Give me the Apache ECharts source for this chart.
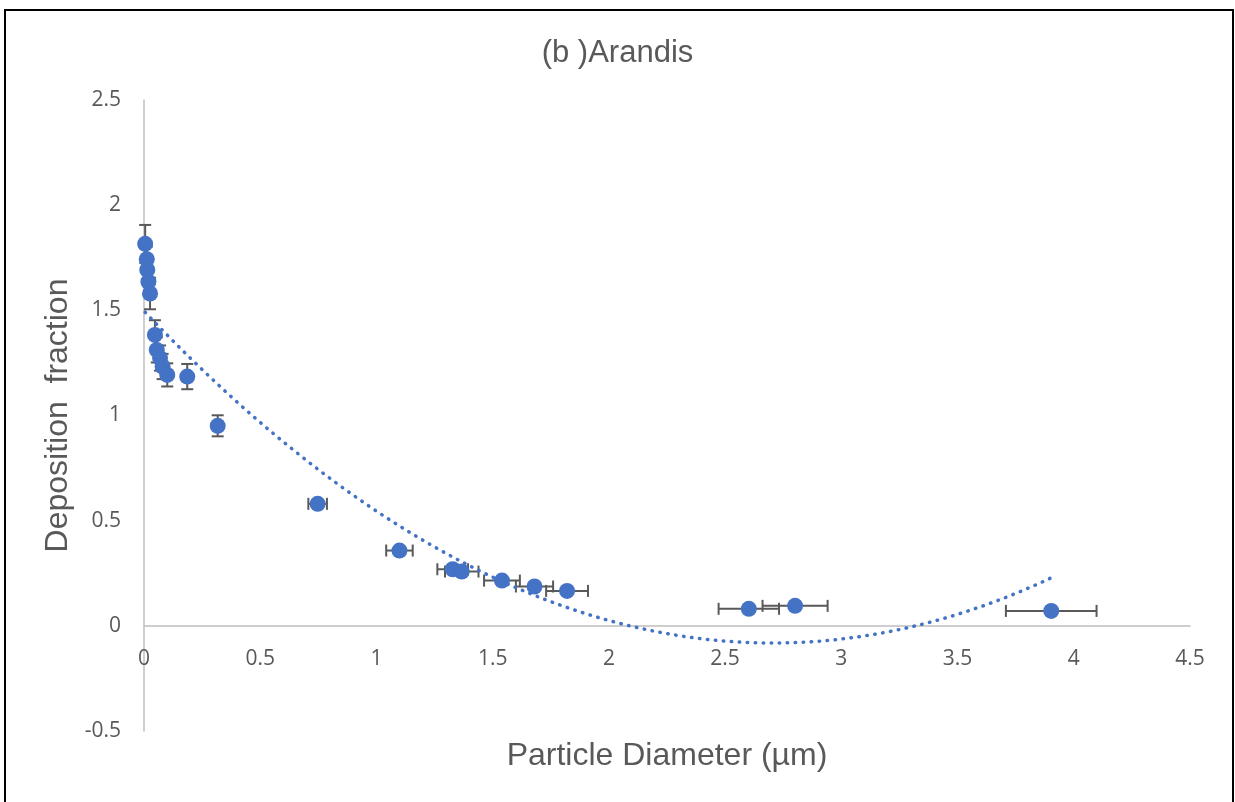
<!DOCTYPE html>
<html>
<head>
<meta charset="utf-8">
<title>(b )Arandis</title>
<script src="https://cdn.jsdelivr.net/npm/echarts@6/dist/echarts.min.js"></script>
<style>
  html, body { margin: 0; padding: 0; background: #fff; }
  #chart { width: 1235px; height: 802px; }
</style>
</head>
<body>
<div id="chart"></div>
<script>
// Measured particle diameters (µm) and deposition fractions
const diameters = [0.005, 0.012, 0.014, 0.019, 0.026, 0.047, 0.055, 0.069, 0.080, 0.100,
                   0.186, 0.317, 0.747, 1.099, 1.328, 1.367, 1.540, 1.680, 1.820, 2.602, 2.801, 3.903];
const fractions = [1.816, 1.743, 1.692, 1.636, 1.580, 1.383, 1.312, 1.273, 1.233, 1.193,
                   1.185, 0.951, 0.580, 0.358, 0.269, 0.258, 0.215, 0.187, 0.166, 0.081, 0.095, 0.071];
// Uncertainties: horizontal (diameter) and vertical (fraction)
const xErrors = [0, 0, 0, 0, 0, 0, 0, 0, 0, 0,
                 0, 0, 0.040, 0.057, 0.066, 0.072, 0.077, 0.080, 0.090, 0.130, 0.140, 0.195];
const yErrors = [0.090, 0.060, 0.060, 0.060, 0.075, 0.070, 0.060, 0.060, 0.060, 0.055,
                 0.060, 0.050, 0.010, 0, 0, 0, 0, 0, 0, 0, 0, 0];
const xTicks = ['0', '0.5', '1', '1.5', '2', '2.5', '3', '3.5', '4', '4.5'];
const yTicks = ['-0.5', '0', '0.5', '1', '1.5', '2', '2.5'];

// Second-order polynomial least-squares trendline
function quadFit(xs, ys) {
  const S = [0, 0, 0, 0, 0], T = [0, 0, 0];
  for (let i = 0; i < xs.length; i++) {
    let p = 1;
    for (let k = 0; k < 5; k++) { S[k] += p; if (k < 3) T[k] += p * ys[i]; p *= xs[i]; }
  }
  const A = [[S[0], S[1], S[2], T[0]], [S[1], S[2], S[3], T[1]], [S[2], S[3], S[4], T[2]]];
  for (let c = 0; c < 3; c++) {
    for (let r = c + 1; r < 3; r++) {
      const f = A[r][c] / A[c][c];
      for (let k = c; k < 4; k++) A[r][k] -= f * A[c][k];
    }
  }
  const b = [0, 0, 0];
  for (let r = 2; r >= 0; r--) {
    let s = A[r][3];
    for (let k = r + 1; k < 3; k++) s -= A[r][k] * b[k];
    b[r] = s / A[r][r];
  }
  return b;
}
const coef = quadFit(diameters, fractions);
const xMin = Math.min(...diameters), xMax = Math.max(...diameters);
const trend = [];
for (let i = 0; i <= 200; i++) {
  const x = xMin + (xMax - xMin) * i / 200;
  trend.push([x, coef[0] + coef[1] * x + coef[2] * x * x]);
}

const points = diameters.map((d, i) => [d, fractions[i]]);
const errData = diameters.map((d, i) => [d, fractions[i], xErrors[i], yErrors[i]]);

const textColor = '#595959';
const axisColor = '#BFBFBF';
const blue = '#4472C4';

const yMin = -0.5, yMax = 2.5;
const gridTop = 100, gridBottom = 71, chartH = 802;
// Shift the horizontal axis (line and labels) up to sit on y = 0
const plotH = chartH - gridTop - gridBottom;
const zeroOffset = -plotH * (0 - yMin) / (yMax - yMin);

const chart = echarts.init(document.getElementById('chart'));
chart.setOption({
  animation: false,
  backgroundColor: '#ffffff',
  title: {
    text: '(b )Arandis',
    left: 'center',
    top: 33,
    textStyle: { fontFamily: 'Liberation Sans', fontSize: 31, fontWeight: 'normal', color: textColor }
  },
  grid: { left: 144, right: 45, top: gridTop, bottom: gridBottom, containLabel: false },
  xAxis: {
    type: 'value',
    min: 0, max: 4.5, interval: 0.5,
    offset: zeroOffset,
    axisLine: { onZero: false, lineStyle: { color: axisColor, width: 1.5 } },
    axisTick: { show: false },
    splitLine: { show: false },
    axisLabel: {
      margin: 23,
      color: textColor, fontFamily: 'Open Sans', fontSize: 21,
      showMinLabel: true, showMaxLabel: true,
      formatter: v => xTicks[Math.round(v / 0.5)]
    }
  },
  yAxis: {
    type: 'value',
    min: yMin, max: yMax, interval: 0.5,
    axisLine: { show: true, onZero: false, lineStyle: { color: axisColor, width: 1.5 } },
    axisTick: { show: false },
    splitLine: { show: false },
    axisLabel: {
      margin: 23,
      color: textColor, fontFamily: 'Open Sans', fontSize: 21,
      formatter: v => yTicks[Math.round((v - yMin) / 0.5)]
    },
    name: 'Deposition  fraction',
    nameLocation: 'middle',
    nameGap: 70,
    nameTextStyle: { fontFamily: 'Liberation Sans', fontSize: 32, color: textColor }
  },
  graphic: [
    {
      type: 'rect',
      shape: { x: 5, y: 10, width: 1228, height: 800 },
      style: { fill: 'none', stroke: '#000', lineWidth: 2 },
      silent: true
    },
    {
      type: 'text',
      x: 667, y: 756,
      style: {
        text: 'Particle Diameter (µm)',
        fontFamily: 'Liberation Sans', fontSize: 32, fill: textColor,
        align: 'center', verticalAlign: 'middle'
      }
    }
  ],
  series: [
    {
      type: 'custom',
      z: 2,
      data: errData,
      renderItem: function (params, api) {
        const x = api.value(0), y = api.value(1), ex = api.value(2), ey = api.value(3);
        const style = { stroke: '#595959', lineWidth: 2 };
        const cap = 6;
        const children = [];
        if (ex > 0) {
          const l = api.coord([x - ex, y]), r = api.coord([x + ex, y]);
          children.push({ type: 'line', shape: { x1: l[0], y1: l[1], x2: r[0], y2: r[1] }, style });
          children.push({ type: 'line', shape: { x1: l[0], y1: l[1] - cap, x2: l[0], y2: l[1] + cap }, style });
          children.push({ type: 'line', shape: { x1: r[0], y1: r[1] - cap, x2: r[0], y2: r[1] + cap }, style });
        }
        if (ey > 0) {
          const t = api.coord([x, y + ey]), b = api.coord([x, y - ey]);
          children.push({ type: 'line', shape: { x1: t[0], y1: t[1], x2: b[0], y2: b[1] }, style });
          children.push({ type: 'line', shape: { x1: t[0] - cap, y1: t[1], x2: t[0] + cap, y2: t[1] }, style });
          children.push({ type: 'line', shape: { x1: b[0] - cap, y1: b[1], x2: b[0] + cap, y2: b[1] }, style });
        }
        return { type: 'group', children };
      }
    },
    {
      type: 'line',
      z: 3,
      data: trend,
      showSymbol: false,
      symbol: 'none',
      smooth: false,
      lineStyle: { color: blue, width: 3.5, type: [0.5, 7.5], cap: 'round' }
    },
    {
      type: 'scatter',
      z: 4,
      data: points,
      symbol: 'circle',
      symbolSize: 16,
      itemStyle: { color: blue, opacity: 1 }
    }
  ]
});
</script>
</body>
</html>
